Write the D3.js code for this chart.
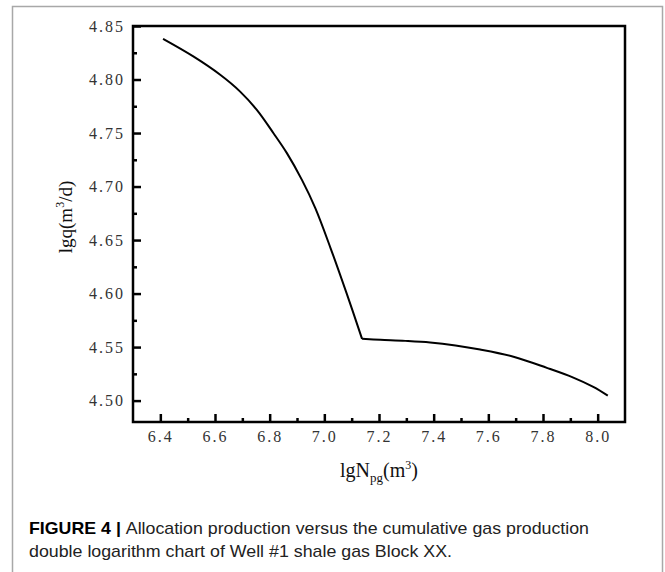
<!DOCTYPE html>
<html>
<head>
<meta charset="utf-8">
<script src="https://cdn.jsdelivr.net/npm/d3@7"></script>
<style>
  html, body { margin: 0; padding: 0; background: #fff; }
  svg { display: block; }
</style>
</head>
<body>
<svg id="chart" width="665" height="572"></svg>
<script>
// values
// decline branch (up to the break point) and the flat branch after it
var lgNpg1 = [6.410, 6.522, 6.619, 6.692, 6.753, 6.814, 6.863, 6.918, 6.967, 7.023, 7.081, 7.138];
var lgq1 = [4.8379, 4.8213, 4.8044, 4.7887, 4.7716, 4.7498, 4.7312, 4.7062, 4.6798, 4.6423, 4.6006, 4.5577];
var lgNpg2 = [7.138, 7.205, 7.296, 7.387, 7.480, 7.570, 7.692, 7.814, 7.911, 7.984, 8.037];
var lgq2 = [4.5577, 4.5568, 4.5558, 4.5543, 4.5515, 4.5477, 4.5410, 4.5306, 4.5215, 4.5128, 4.5046];
var xTicks = [6.4, 6.6, 6.8, 7.0, 7.2, 7.4, 7.6, 7.8, 8.0];
var xMinor = [6.5, 6.7, 6.9, 7.1, 7.3, 7.5, 7.7, 7.9];
var yTicks = [4.50, 4.55, 4.60, 4.65, 4.70, 4.75, 4.80, 4.85];
var yMinor = [4.525, 4.575, 4.625, 4.675, 4.725, 4.775, 4.825];
var captionLines = [
  { bold: "FIGURE 4 | ", text: "Allocation production versus the cumulative gas production" },
  { bold: "", text: "double logarithm chart of Well #1 shale gas Block XX." }
];

var svg = d3.select('#chart');
var margin = { left: 133, top: 26, right: 40, bottom: 150 };
var width = 665 - margin.left - margin.right,
    height = 572 - margin.top - margin.bottom;

// outer figure frame
svg.append('rect')
    .attr('x', 12.5).attr('y', 6.5)
    .attr('width', 650).attr('height', 620)
    .attr('fill', 'none')
    .attr('stroke', '#a8a8a8')
    .attr('stroke-width', 1.5);

var g = svg.append('g').attr('transform', 'translate(' + margin.left + ',' + margin.top + ')');

var x = d3.scaleLinear().domain([6.3, 8.1]).range([0, width]);
var y = d3.scaleLinear().domain([4.48, 4.85]).range([height, 0]);

var tickFont = '"Liberation Serif", "DejaVu Serif", serif';

function styleAxis(sel) {
    sel.select('.domain').remove();
    sel.selectAll('.tick line').attr('stroke', '#000').attr('stroke-width', 2.5);
    sel.selectAll('text')
        .attr('fill', '#333')
        .style('font-family', tickFont)
        .style('font-size', '16px')
        .style('letter-spacing', '2px');
}

// x axis: major and minor ticks pointing inward
g.append('g')
    .attr('transform', 'translate(0,' + height + ')')
    .call(d3.axisBottom(x).tickValues(xTicks).tickSize(-8).tickPadding(9).tickFormat(d3.format('.1f')))
    .call(styleAxis);
g.append('g')
    .attr('transform', 'translate(0,' + height + ')')
    .call(d3.axisBottom(x).tickValues(xMinor).tickSize(-4).tickFormat(''))
    .call(styleAxis);

// y axis
g.append('g')
    .call(d3.axisLeft(y).tickValues(yTicks).tickSize(-8).tickPadding(8).tickFormat(d3.format('.2f')))
    .call(styleAxis);
g.append('g')
    .call(d3.axisLeft(y).tickValues(yMinor).tickSize(-4).tickFormat(''))
    .call(styleAxis);

// plot box
g.append('rect')
    .attr('width', width).attr('height', height)
    .attr('fill', 'none')
    .attr('stroke', '#000')
    .attr('stroke-width', 2.5);

// curve, drawn as two smooth branches meeting at the break point
var line = d3.line()
    .x(function (d) { return x(d[0]); })
    .y(function (d) { return y(d[1]); })
    .curve(d3.curveCatmullRom.alpha(0.5));
[[lgNpg1, lgq1], [lgNpg2, lgq2]].forEach(function (s) {
    var pts = s[0].map(function (d, i) { return [d, s[1][i]]; });
    g.append('path')
        .datum(pts)
        .attr('d', line)
        .attr('fill', 'none')
        .attr('stroke', '#000')
        .attr('stroke-width', 2)
        .attr('stroke-linejoin', 'round');
});

// axis titles
var xt = svg.append('text')
    .attr('x', margin.left + width / 2)
    .attr('y', 477)
    .attr('text-anchor', 'middle')
    .style('font-family', tickFont)
    .style('font-size', '20px')
    .attr('fill', '#111');
xt.append('tspan').text('lgN');
xt.append('tspan').attr('dy', 5).style('font-size', '13px').text('pg');
xt.append('tspan').attr('dy', -5).text('(m');
xt.append('tspan').attr('dy', -8).style('font-size', '12px').text('3');
xt.append('tspan').attr('dy', 8).text(')');

var yt = svg.append('text')
    .attr('transform', 'translate(72,217) rotate(-90)')
    .attr('text-anchor', 'middle')
    .style('font-family', tickFont)
    .style('font-size', '19px')
    .attr('fill', '#111');
yt.append('tspan').text('lgq(m');
yt.append('tspan').attr('dy', -8).style('font-size', '12px').text('3');
yt.append('tspan').attr('dy', 8).text('/d)');

// caption
var capWidths = [560, 423];
captionLines.forEach(function (ln, i) {
    var t = svg.append('text')
        .attr('x', 29)
        .attr('y', 534 + i * 23)
        .style('font-family', '"Liberation Sans", Arial, sans-serif')
        .style('font-size', '17px')
        .attr('fill', '#222')
        .attr('textLength', capWidths[i])
        .attr('lengthAdjust', 'spacingAndGlyphs');
    if (ln.bold) t.append('tspan').style('font-weight', 'bold').attr('fill', '#000').text(ln.bold);
    t.append('tspan').text(ln.text);
});
</script>
</body>
</html>
